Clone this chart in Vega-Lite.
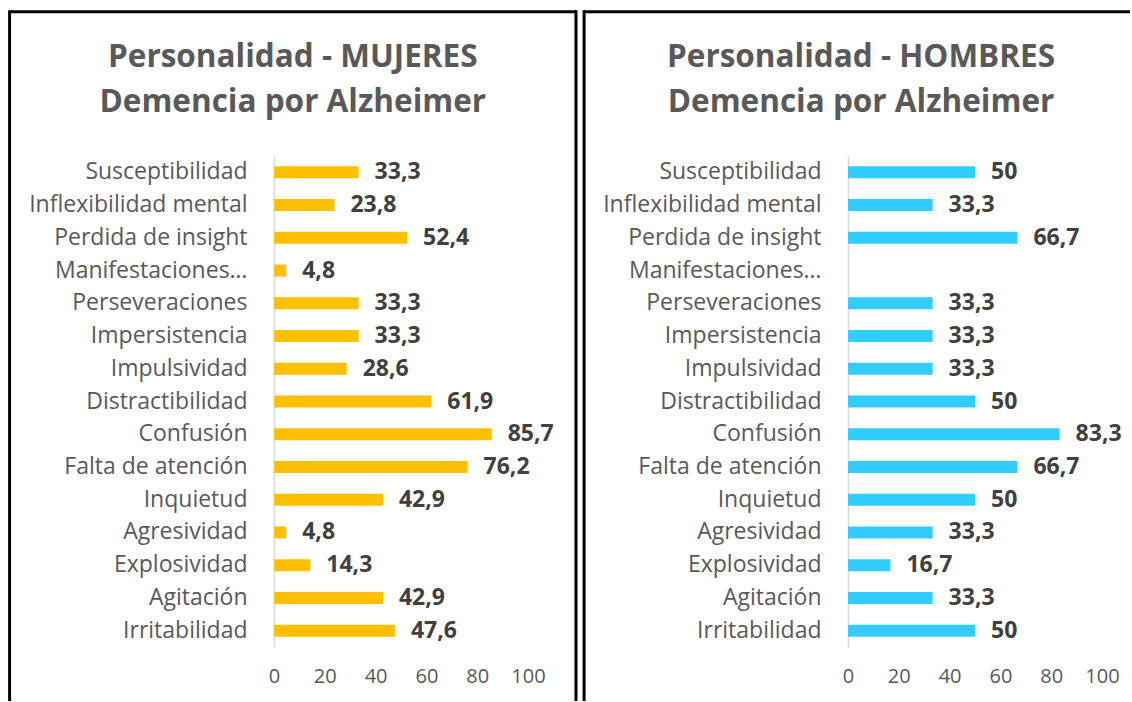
{
  "$schema": "https://vega.github.io/schema/vega-lite/v6.json",
  "padding": {"left": 8, "top": 8, "right": 0, "bottom": 0},
  "background": "white",
  "spacing": 4,
  "config": {
    "locale": {"number": {"decimal": ",", "thousands": ".", "grouping": [3], "currency": ["", " €"]}},
    "font": "Open Sans",
    "view": {"stroke": null},
    "title": {"font": "Open Sans", "fontSize": 31.5, "fontWeight": "bold", "color": "#595959", "lineHeight": 45, "anchor": "middle", "frame": "bounds", "offset": -110}
  },
  "datasets": {
    "mujeres": [
      {"rasgo": "Susceptibilidad", "valor": 33.3},
      {"rasgo": "Inflexibilidad mental", "valor": 23.8},
      {"rasgo": "Perdida de insight", "valor": 52.4},
      {"rasgo": "Manifestaciones…", "valor": 4.8},
      {"rasgo": "Perseveraciones", "valor": 33.3},
      {"rasgo": "Impersistencia", "valor": 33.3},
      {"rasgo": "Impulsividad", "valor": 28.6},
      {"rasgo": "Distractibilidad", "valor": 61.9},
      {"rasgo": "Confusión", "valor": 85.7},
      {"rasgo": "Falta de atención", "valor": 76.2},
      {"rasgo": "Inquietud", "valor": 42.9},
      {"rasgo": "Agresividad", "valor": 4.8},
      {"rasgo": "Explosividad", "valor": 14.3},
      {"rasgo": "Agitación", "valor": 42.9},
      {"rasgo": "Irritabilidad", "valor": 47.6}
    ],
    "hombres": [
      {"rasgo": "Susceptibilidad", "valor": 50},
      {"rasgo": "Inflexibilidad mental", "valor": 33.3},
      {"rasgo": "Perdida de insight", "valor": 66.7},
      {"rasgo": "Manifestaciones…", "valor": null},
      {"rasgo": "Perseveraciones", "valor": 33.3},
      {"rasgo": "Impersistencia", "valor": 33.3},
      {"rasgo": "Impulsividad", "valor": 33.3},
      {"rasgo": "Distractibilidad", "valor": 50},
      {"rasgo": "Confusión", "valor": 83.3},
      {"rasgo": "Falta de atención", "valor": 66.7},
      {"rasgo": "Inquietud", "valor": 50},
      {"rasgo": "Agresividad", "valor": 33.3},
      {"rasgo": "Explosividad", "valor": 16.7},
      {"rasgo": "Agitación", "valor": 33.3},
      {"rasgo": "Irritabilidad", "valor": 50}
    ]
  },
  "hconcat": [
    {
      "width": 254,
      "height": 491,
      "title": {"text": ["Personalidad - MUJERES", "Demencia por Alzheimer"]},
      "layer": [
        {
          "data": {"name": "mujeres"},
          "encoding": {
            "y": {"field": "rasgo", "type": "nominal", "sort": null,
              "scale": {"domain": ["Susceptibilidad", "Inflexibilidad mental", "Perdida de insight", "Manifestaciones…", "Perseveraciones", "Impersistencia", "Impulsividad", "Distractibilidad", "Confusión", "Falta de atención", "Inquietud", "Agresividad", "Explosividad", "Agitación", "Irritabilidad"]},
              "axis": {"title": null, "ticks": false, "domainColor": "#D9D9D9", "domainWidth": 1.5, "labelFontSize": 23, "labelColor": "#595959", "labelPadding": 27, "labelLimit": 400, "labelFont": "Open Sans"}},
            "x": {"field": "valor", "type": "quantitative",
              "scale": {"domain": [0, 100], "nice": false},
              "axis": {"title": null, "grid": false, "domain": false, "ticks": false, "labelFlush": false, "values": [0, 20, 40, 60, 80, 100], "labelFontSize": 20, "labelColor": "#595959", "labelPadding": 19, "labelFont": "Open Sans"}}
          },
          "layer": [
            {"mark": {"type": "bar", "size": 12, "color": "#FFC000"}},
            {"mark": {"type": "text", "align": "left", "baseline": "middle", "dx": 16, "fontSize": 23, "fontWeight": "bold", "color": "#404040", "font": "Open Sans"},
              "encoding": {"text": {"field": "valor", "type": "quantitative", "format": ".1~f"}}}
          ]
        },
        {
          "data": {"values": [{}]},
          "layer": [
            {"mark": {"type": "rule", "color": "black", "strokeWidth": 3},
              "encoding": {
                "x": {"datum": -1.041, "type": "quantitative", "scale": {"domain": [0, 1], "nice": false, "zero": false}, "axis": null},
                "x2": {"datum": 1.189},
                "y": {"datum": 1.294, "type": "quantitative", "scale": {"domain": [0, 1], "nice": false, "zero": false}, "axis": null}
              }},
            {"mark": {"type": "rule", "color": "black", "strokeWidth": 3},
              "encoding": {
                "x": {"datum": -1.041, "type": "quantitative", "axis": null},
                "y": {"datum": 1.297, "type": "quantitative", "axis": null},
                "y2": {"datum": -0.11}
              }},
            {"mark": {"type": "rule", "color": "black", "strokeWidth": 3},
              "encoding": {
                "x": {"datum": 1.189, "type": "quantitative", "axis": null},
                "y": {"datum": 1.297, "type": "quantitative", "axis": null},
                "y2": {"datum": -0.11}
              }}
          ]
        }
      ],
      "resolve": {"scale": {"x": "independent", "y": "independent"}}
    },
    {
      "width": 254,
      "height": 491,
      "title": {"text": ["Personalidad - HOMBRES", "Demencia por Alzheimer"], "dx": 4},
      "layer": [
        {
          "data": {"name": "hombres"},
          "encoding": {
            "y": {"field": "rasgo", "type": "nominal", "sort": null,
              "scale": {"domain": ["Susceptibilidad", "Inflexibilidad mental", "Perdida de insight", "Manifestaciones…", "Perseveraciones", "Impersistencia", "Impulsividad", "Distractibilidad", "Confusión", "Falta de atención", "Inquietud", "Agresividad", "Explosividad", "Agitación", "Irritabilidad"]},
              "axis": {"title": null, "ticks": false, "domainColor": "#D9D9D9", "domainWidth": 1.5, "labelFontSize": 23, "labelColor": "#595959", "labelPadding": 27, "labelLimit": 400, "labelFont": "Open Sans"}},
            "x": {"field": "valor", "type": "quantitative",
              "scale": {"domain": [0, 100], "nice": false},
              "axis": {"title": null, "grid": false, "domain": false, "ticks": false, "labelFlush": false, "values": [0, 20, 40, 60, 80, 100], "labelFontSize": 20, "labelColor": "#595959", "labelPadding": 19, "labelFont": "Open Sans"}}
          },
          "layer": [
            {"mark": {"type": "bar", "size": 12, "color": "#33CCFF"}},
            {"mark": {"type": "text", "align": "left", "baseline": "middle", "dx": 16, "fontSize": 23, "fontWeight": "bold", "color": "#404040", "font": "Open Sans"},
              "encoding": {"text": {"field": "valor", "type": "quantitative", "format": ".1~f"}}}
          ]
        },
        {
          "data": {"values": [{}]},
          "layer": [
            {"mark": {"type": "rule", "color": "black", "strokeWidth": 3},
              "encoding": {
                "x": {"datum": -1.039, "type": "quantitative", "scale": {"domain": [0, 1], "nice": false, "zero": false}, "axis": null},
                "x2": {"datum": 1.11},
                "y": {"datum": 1.294, "type": "quantitative", "scale": {"domain": [0, 1], "nice": false, "zero": false}, "axis": null}
              }},
            {"mark": {"type": "rule", "color": "black", "strokeWidth": 3},
              "encoding": {
                "x": {"datum": -1.039, "type": "quantitative", "axis": null},
                "y": {"datum": 1.297, "type": "quantitative", "axis": null},
                "y2": {"datum": -0.11}
              }}
          ]
        }
      ],
      "resolve": {"scale": {"x": "independent", "y": "independent"}}
    }
  ]
}
